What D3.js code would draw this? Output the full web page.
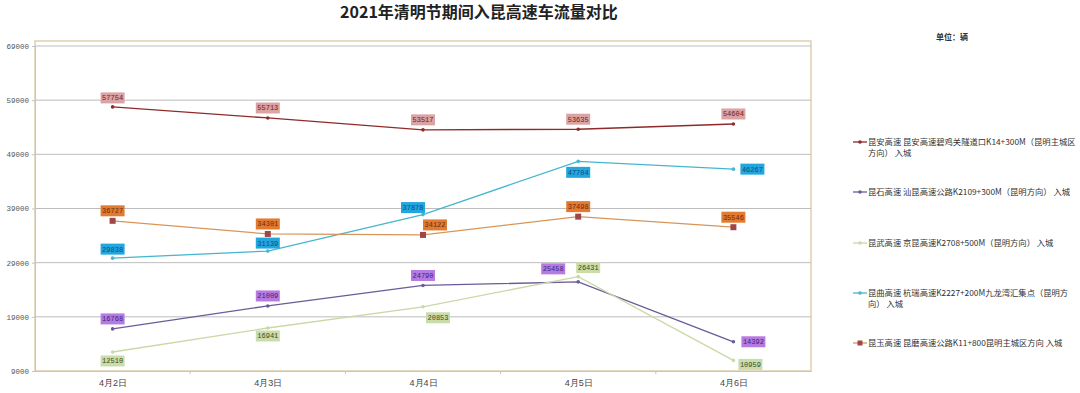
<!DOCTYPE html>
<html>
<head>
<meta charset="utf-8">
<script src="https://cdn.jsdelivr.net/npm/d3@7"></script>
<style>
  body { margin: 0; background: #fff; }
  svg { display: block; font-family: "Noto Sans CJK SC", "DejaVu Sans", sans-serif; }
</style>
</head>
<body>
<svg id="chart" width="1080" height="393"></svg>
<script>
const title = '2021年清明节期间入昆高速车流量对比';
const unitText = '单位：辆';
const dates = ['4月2日', '4月3日', '4月4日', '4月5日', '4月6日'];
const yTicks = [9000, 19000, 29000, 39000, 49000, 59000, 69000];

const seriesNames = [
  ['昆安高速 昆安高速碧鸡关隧道口K14+300M（昆明主城区', '方向） 入城'],
  ['昆石高速 汕昆高速公路K2109+300M（昆明方向） 入城'],
  ['昆武高速 京昆高速K2708+500M（昆明方向） 入城'],
  ['昆曲高速 杭瑞高速K2227+200M九龙湾汇集点（昆明方', '向） 入城'],
  ['昆玉高速 昆磨高速公路K11+800昆明主城区方向 入城']
];
const kunan = [57754, 55713, 53517, 53635, 54604];
const kunshi = [16768, 21009, 24790, 25458, 14392];
const kunwu = [12510, 16941, 20853, 26431, 10959];
const kunqu = [29838, 31139, 37878, 47704, 46267];
const kunyu = [36727, 34301, 34122, 37498, 35546];
const seriesValues = [kunan, kunshi, kunwu, kunqu, kunyu];

// styles per series
const lineColors = ['#8e2a2a', '#6b5b98', '#c9d9a6', '#45b6cf', '#d8955a'];
const markerColors = ['#8e2a2a', '#6b5b98', '#c9d9a6', '#45b6cf', '#a04646'];
const labelFill = ['#dba3a3', '#b67be0', '#cbdcab', '#22a6de', '#e27a30'];
const labelText = ['#6e2020', '#3f1f78', '#3a4a22', '#0f4c82', '#6e2a0e'];
// label offset from point (dx, dy) of label centre
const labelOffsets = [
  [[0, -9], [0, -10], [0, -10], [0, -10], [0, -10]],
  [[0, -10], [0, -10], [0, -10], [-25, -13], [20, 0]],
  [[0, 9], [0, 8], [15, 11], [10, -9], [17, 4]],
  [[0, -9], [0, -8], [-10, -7], [0, 11], [19, 0]],
  [[0, -10], [0, -10], [12, -10], [0, -10], [0, -10]]
];

const svg = d3.select('#chart');
const plotLeft = 35, plotRight = 811, plotTop = 41;

const x = d3.scalePoint().domain(dates).range([plotLeft, plotRight]).padding(0.5);
const y = d3.scaleLinear().domain([9000, 69000]).range([371, 46]);

svg.append('text')
  .attr('x', 479).attr('y', 18)
  .attr('text-anchor', 'middle')
  .attr('font-size', 16).attr('font-weight', 'bold')
  .attr('fill', '#222')
  .text(title);

svg.append('text')
  .attr('x', 952).attr('y', 40)
  .attr('text-anchor', 'middle')
  .attr('font-size', 8).attr('font-weight', 'bold')
  .attr('fill', '#333')
  .text(unitText);

// plot area border
svg.append('rect')
  .attr('x', plotLeft).attr('y', plotTop)
  .attr('width', plotRight - plotLeft).attr('height', y(9000) - plotTop)
  .attr('fill', 'none').attr('stroke', '#e2cfae').attr('stroke-width', 1.5);

// gridlines
svg.append('g')
  .selectAll('line')
  .data(yTicks.slice(1))
  .enter().append('line')
  .attr('x1', plotLeft).attr('x2', plotRight)
  .attr('y1', d => y(d)).attr('y2', d => y(d))
  .attr('stroke', '#bdbdbd').attr('stroke-width', 1);

// y axis
const yAxis = svg.append('g')
  .attr('transform', `translate(${plotLeft},0)`)
  .call(d3.axisLeft(y).tickValues(yTicks).tickSize(3).tickPadding(3).tickFormat(d3.format('d')));
yAxis.select('.domain').attr('stroke', '#c4c4c4');
yAxis.selectAll('.tick line').attr('stroke', '#c4c4c4');
yAxis.selectAll('text')
  .attr('font-family', '"Liberation Mono", "DejaVu Sans Mono", monospace')
  .attr('font-size', 7.5).attr('fill', '#555');

// x axis
const xAxis = svg.append('g')
  .attr('transform', `translate(0,${y(9000)})`)
  .call(d3.axisBottom(x).tickSize(0).tickPadding(9));
xAxis.select('.domain').attr('stroke', '#c4c4c4');
xAxis.selectAll('text').attr('font-size', 9).attr('fill', '#444');
// ticks at category boundaries
xAxis.selectAll('.bound')
  .data(dates.slice(1))
  .enter().append('line')
  .attr('class', 'bound')
  .attr('x1', d => x(d) - x.step() / 2).attr('x2', d => x(d) - x.step() / 2)
  .attr('y1', 0).attr('y2', 3)
  .attr('stroke', '#c4c4c4');

const line = d3.line()
  .x((d, i) => x(dates[i]))
  .y(d => y(d));

seriesValues.forEach((vals, s) => {
  const g = svg.append('g');
  g.append('path')
    .datum(vals)
    .attr('d', line)
    .attr('fill', 'none')
    .attr('stroke', lineColors[s])
    .attr('stroke-width', 1.3);

  if (s === 4) {
    g.selectAll('rect.m')
      .data(vals)
      .enter().append('rect')
      .attr('class', 'm')
      .attr('x', (d, i) => x(dates[i]) - 3)
      .attr('y', d => y(d) - 3)
      .attr('width', 6).attr('height', 6)
      .attr('fill', markerColors[s]);
  } else {
    g.selectAll('circle')
      .data(vals)
      .enter().append('circle')
      .attr('cx', (d, i) => x(dates[i]))
      .attr('cy', d => y(d))
      .attr('r', 1.8)
      .attr('fill', markerColors[s]);
  }

  // data labels
  const lab = g.selectAll('g.lab')
    .data(vals)
    .enter().append('g')
    .attr('class', 'lab')
    .attr('transform', (d, i) =>
      `translate(${x(dates[i]) + labelOffsets[s][i][0]},${y(d) + labelOffsets[s][i][1]})`);
  lab.append('rect')
    .attr('x', -12).attr('y', -5.5)
    .attr('width', 24).attr('height', 11)
    .attr('fill', labelFill[s]);
  lab.append('text')
    .attr('text-anchor', 'middle')
    .attr('dy', '0.35em')
    .attr('font-family', '"Liberation Mono", "DejaVu Sans Mono", monospace')
    .attr('font-size', 7)
    .attr('fill', labelText[s])
    .text(d => d);
});

// legend
const legendY = [142, 192, 243, 293, 343];
seriesNames.forEach((lines, s) => {
  const g = svg.append('g').attr('transform', `translate(853,${legendY[s]})`);
  g.append('line')
    .attr('x1', 0).attr('x2', 14).attr('y1', 0).attr('y2', 0)
    .attr('stroke', lineColors[s]).attr('stroke-width', 1.3);
  if (s === 4) {
    g.append('rect').attr('x', 4.5).attr('y', -2.5).attr('width', 5).attr('height', 5).attr('fill', markerColors[s]);
  } else {
    g.append('circle').attr('cx', 7).attr('cy', 0).attr('r', 1.8).attr('fill', markerColors[s]);
  }
  g.selectAll('text')
    .data(lines)
    .enter().append('text')
    .attr('x', 15)
    .attr('y', (d, i) => i * 11)
    .attr('dy', '0.35em')
    .attr('font-size', 8.3)
    .attr('fill', '#333')
    .text(d => d);
});
</script>
</body>
</html>
